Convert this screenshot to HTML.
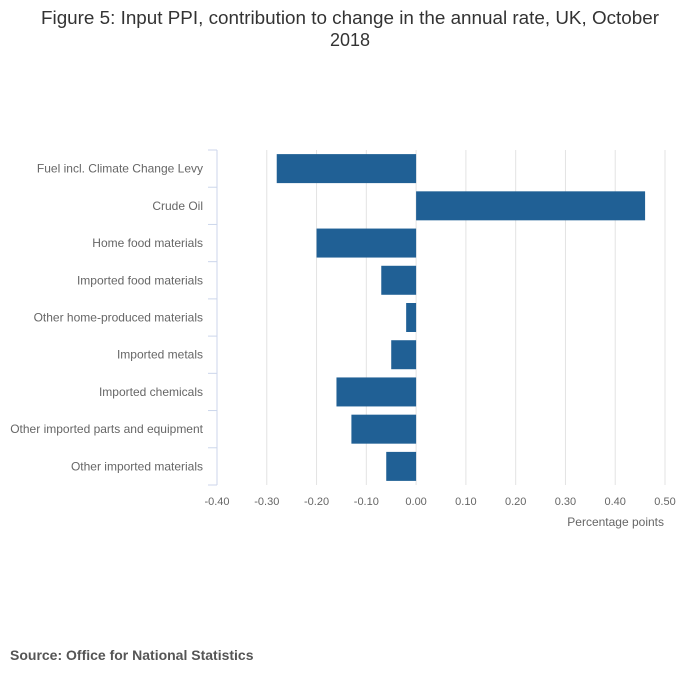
<!DOCTYPE html>
<html><head><meta charset="utf-8"><style>
body{margin:0;background:#fff;font-family:"Liberation Sans",sans-serif;}
</style></head><body>
<svg width="700" height="682" xmlns="http://www.w3.org/2000/svg">
<text x="41" y="24" textLength="618" lengthAdjust="spacingAndGlyphs" font-size="18" fill="#333">Figure 5: Input PPI, contribution to change in the annual rate, UK, October</text>
<text x="350" y="46" text-anchor="middle" font-size="18" fill="#333">2018</text>
<g id="grid"></g><g id="bars"></g><g id="axes"></g>
<text x="664" y="526" text-anchor="end" font-size="12" fill="#666">Percentage points</text>
<text x="10" y="660" font-size="14" font-weight="bold" fill="#555">Source: Office for National Statistics</text>
</svg>
<script>
const categories=["Fuel incl. Climate Change Levy","Crude Oil","Home food materials","Imported food materials","Other home-produced materials","Imported metals","Imported chemicals","Other imported parts and equipment","Other imported materials"];
const values=[-0.28,0.46,-0.20,-0.07,-0.02,-0.05,-0.16,-0.13,-0.06];
const ticks=[-0.4,-0.3,-0.2,-0.1,0,0.1,0.2,0.3,0.4,0.5];
const tickLabels=["-0.40","-0.30","-0.20","-0.10","0.00","0.10","0.20","0.30","0.40","0.50"];
const NS="http://www.w3.org/2000/svg";
const x0=217,x1=665,vmin=-0.4,vmax=0.5,plotTop=150,plotBot=485;
const xs=v=>x0+(v-vmin)/(vmax-vmin)*(x1-x0);
const band=(plotBot-plotTop)/categories.length;
function mk(t,a,p){const e=document.createElementNS(NS,t);for(const k in a)e.setAttribute(k,a[k]);p.appendChild(e);return e;}
const g=document.getElementById('grid'),b=document.getElementById('bars'),ax=document.getElementById('axes');
ticks.forEach((t,i)=>{
 if(i>0){const l=mk('line',{x1:xs(t),x2:xs(t),y1:plotTop,y2:plotBot,stroke:'#e3e3e3','stroke-width':1},g);
 
 }
 const tx=mk('text',{x:xs(t),y:plotBot+20,'text-anchor':'middle','font-size':11,fill:'#666'},ax);
 tx.textContent=tickLabels[i];
 
 
});
const al=mk('line',{x1:x0,x2:x0,y1:plotTop,y2:plotBot,stroke:'#ccd6eb','stroke-width':1},ax);


for(let i=0;i<=categories.length;i++){const y=plotTop+i*band;
 const tk=mk('line',{x1:x0-9,x2:x0,y1:y,y2:y,stroke:'#ccd6eb','stroke-width':1},ax);
 
 }
categories.forEach((c,i)=>{
 const yc=plotTop+(i+0.5)*band;
 const t=mk('text',{x:203,y:yc+4,'text-anchor':'end','font-size':12,fill:'#666'},ax);
 t.textContent=c;
 
 
 const v=values[i],xa=xs(Math.min(0,v)),xb=xs(Math.max(0,v));
 const r=mk('rect',{x:xa,y:yc-14.5,width:xb-xa,height:29,fill:'#206095'},b);
 
 
});
</script>
</body></html>
